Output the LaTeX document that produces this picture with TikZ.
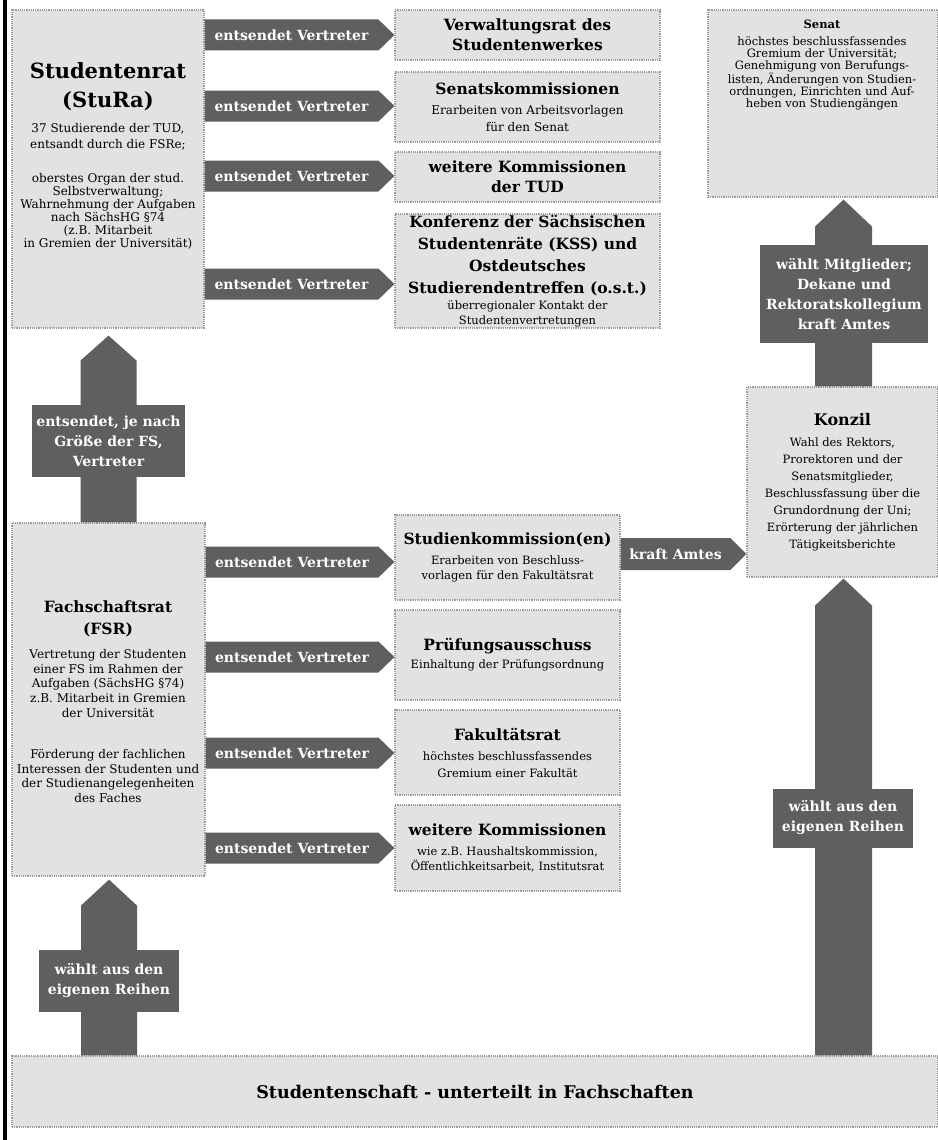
\documentclass[tikz,border=0pt]{standalone}
\usepackage{fontspec}
\setmainfont{DejaVu Serif}
\usetikzlibrary{calc}
\definecolor{boxfill}{HTML}{E2E2E2}
\definecolor{boxline}{HTML}{9C9C9C}
\definecolor{arrcol}{HTML}{5F5F5F}
\newcommand\tB{\bfseries\fontsize{15.5}{20}\selectfont}
\newcommand\bx[7][]{\node[box,#1,minimum width={#5-#3},minimum height={#6-#4}] (#2) at ({(#3+#5)/2},{(#4+#6)/2}) {#7};}
\newcommand\harr[6]{%
  \path (#1.east |- 0,#3) coordinate (#5s) (#2.west |- 0,#3) coordinate (#5e);
  \fill[arr] ($(#5s)+(0,-#4)$) -- ($(#5e)+(-16,-#4)$) -- (#5e) -- ($(#5e)+(-16,#4)$) -- ($(#5s)+(0,#4)$) -- cycle;
  \node[atext] (#5) at ($($(#5s)!0.5!(#5e)$)+(-8,0)$) {#6};}
\newcommand\varr[7]{%
  \path (#1.north -| #3,0) coordinate (#7s) (#2.south -| #3,0) coordinate (#7e);
  \fill[arr] ($(#7s)+(-#4,0)$) -- ($(#7e)+(-#4,#5+#6)$) -- ($(#7e)+(0,#5)$) -- ($(#7e)+(#4,#5+#6)$) -- ($(#7s)+(#4,0)$) -- cycle;}
\begin{document}
\begin{tikzpicture}[x=1pt,y=-1pt,
  box/.style={draw=boxline,fill=boxfill,densely dotted,line width=1.2pt,inner sep=0pt,align=center},
  arr/.style={fill=arrcol},
  atext/.style={text=white,font=\bfseries\fontsize{14}{20}\selectfont,align=center,inner sep=0pt},
  lbl/.style={fill=arrcol,text=white,font=\bfseries\fontsize{14}{20}\selectfont,align=center,inner sep=0pt},
  txt/.style={align=center,inner sep=0pt}]
\useasboundingbox[fill=white] (0,0) rectangle (937,1140);
\draw[line width=4pt] (5,0) -- (5,1140);

% --- boxes ---
\bx{stura}{12}{10}{204}{328}{}
\node[txt,anchor=north,font=\bfseries\fontsize{21}{29}\selectfont] (sturaTitle) at (108,62) {Studentenrat\\(StuRa)};
\node[txt,anchor=north,font=\fontsize{12}{13}\selectfont] (sturaText) at (108,123) {37 Studierende der TUD,\\[3.5pt]entsandt durch die FSRe;\\[21pt]oberstes Organ der stud.\\Selbstverwaltung;\\Wahrnehmung der Aufgaben\\nach SächsHG §74\\(z.B. Mitarbeit\\in Gremien der Universität)};

\bx[font=\fontsize{12}{16.5}\selectfont]{vrs}{395}{10}{660}{60}{{\tB Verwaltungsrat des}\\[3.5pt]{\tB Studentenwerkes}}
\bx[font=\fontsize{12}{16.5}\selectfont]{senk}{395}{72}{660}{142}{{\tB Senatskommissionen}\\[3.5pt]Erarbeiten von Arbeitsvorlagen\\für den Senat}
\bx[font=\fontsize{12}{16.5}\selectfont]{wk}{395}{152}{660}{202}{{\tB weitere Kommissionen}\\[3.5pt]{\tB der TUD}}
\bx[font=\fontsize{12}{16.5}\selectfont]{kss}{395}{214}{660}{328}{{\tB Konferenz der Sächsischen}\\[5.5pt]{\tB Studentenräte (KSS) und}\\[5.5pt]{\tB Ostdeutsches}\\[5.5pt]{\tB Studierendentreffen (o.s.t.)}\\[0pt]{\fontsize{11.5}{14}\selectfont überregionaler Kontakt der}\\[-2pt]{\fontsize{11.5}{14}\selectfont Studentenvertretungen}}

\bx{senat}{708}{10}{938}{197}{}
\node[txt,anchor=north,font=\bfseries\fontsize{11.5}{12}\selectfont] (senatTitle) at (822,19.5) {Senat};
\node[txt,anchor=north,font=\fontsize{11.5}{12}\selectfont] (senatText) at (822,36.5) {höchstes beschlussfassendes\\Gremium der Universität;\\Genehmigung von Berufungs-\\listen, Änderungen von Studien-\\ordnungen, Einrichten und Auf-\\heben von Studiengängen};

\bx[font=\fontsize{11.5}{17}\selectfont]{konzil}{747}{387}{938}{577}{{\bfseries\fontsize{16}{18}\selectfont Konzil}\\[4pt]Wahl des Rektors,\\Prorektoren und der\\Senatsmitglieder,\\Beschlussfassung über die\\Grundordnung der Uni;\\Erörterung der jährlichen\\Tätigkeitsberichte}

\bx{fsr}{12}{523}{205}{876}{}
\node[txt,anchor=north,font=\bfseries\fontsize{15.5}{22}\selectfont] (fsrTitle) at (108,601) {Fachschaftsrat\\(FSR)};
\node[txt,anchor=north,font=\fontsize{12}{14.8}\selectfont] (fsrText) at (108,649) {Vertretung der Studenten\\einer FS im Rahmen der\\Aufgaben (SächsHG §74)\\z.B. Mitarbeit in Gremien\\der Universität\\[26pt]Förderung der fachlichen\\Interessen der Studenten und\\der Studienangelegenheiten\\des Faches};

\bx[font=\fontsize{11.5}{15}\selectfont]{stk}{395}{515}{620}{600}{{\tB Studienkommission(en)}\\[5pt]Erarbeiten von Beschluss-\\vorlagen für den Fakultätsrat}
\bx[font=\fontsize{11.5}{15}\selectfont]{pa}{395}{610}{620}{700}{{\tB Prüfungsausschuss}\\[3pt]Einhaltung der Prüfungsordnung}
\bx[font=\fontsize{11.5}{15}\selectfont]{fr}{395}{710}{620}{795}{{\tB Fakultätsrat}\\[5pt]höchstes beschlussfassendes\\[2pt]Gremium einer Fakultät}
\bx[font=\fontsize{11.5}{15}\selectfont]{wkf}{395}{805}{620}{891}{{\tB weitere Kommissionen}\\[5pt]wie z.B. Haushaltskommission,\\Öffentlichkeitsarbeit, Institutsrat}

\bx[font=\bfseries\fontsize{17.5}{20}\selectfont]{stsch}{12}{1056}{938}{1127}{Studentenschaft - unterteilt in Fachschaften}

% --- horizontal arrows ---
\harr{stura}{vrs}{35}{15.5}{h1}{entsendet Vertreter}
\harr{stura}{senk}{106}{15.5}{h2}{entsendet Vertreter}
\harr{stura}{wk}{176}{15.5}{h3}{entsendet Vertreter}
\harr{stura}{kss}{284}{15.5}{h4}{entsendet Vertreter}
\harr{fsr}{stk}{562}{15.5}{h5}{entsendet Vertreter}
\harr{fsr}{pa}{657}{15.5}{h6}{entsendet Vertreter}
\harr{fsr}{fr}{753}{15.5}{h7}{entsendet Vertreter}
\harr{fsr}{wkf}{848}{15.5}{h8}{entsendet Vertreter}
\harr{stk}{konzil}{554}{16}{h9}{kraft Amtes}

% --- vertical arrows ---
\varr{fsr}{stura}{108.5}{28}{7}{25}{v1}
\varr{stsch}{fsr}{109}{28}{3}{26}{v2}
\varr{stsch}{konzil}{843.5}{28.5}{1}{27}{v3}
\varr{konzil}{senat}{843.5}{28.5}{2}{27}{v4}
\node[lbl,minimum width=153,minimum height=72] (l1) at (108.5,441) {entsendet, je nach\\Größe der FS,\\Vertreter};
\node[lbl,minimum width=140,minimum height=62] (l2) at (109,981) {wählt aus den\\eigenen Reihen};
\node[lbl,minimum width=140,minimum height=59] (l3) at (843,818) {wählt aus den\\eigenen Reihen};
\node[lbl,minimum width=168,minimum height=98] (l4) at (844,294) {wählt Mitglieder;\\Dekane und\\Rektoratskollegium\\kraft Amtes};
\end{tikzpicture}
\end{document}
